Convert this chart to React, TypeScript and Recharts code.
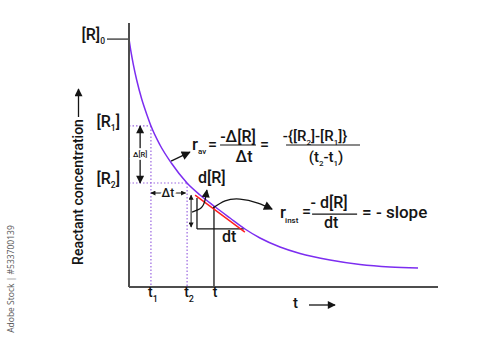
import React from "react";
import {
  ComposedChart,
  Line,
  XAxis,
  YAxis,
  ReferenceLine,
  ReferenceDot,
} from "recharts";

// concentration decay curve (both axes 0..100)
const TIME = [0, 0.65, 1.39, 2.49, 4.11, 5.99, 7.12, 10.03, 13.75, 18.77, 22.98, 27.51, 32.69, 37.54, 42.39, 48.87, 55.34, 65.05, 74.76, 84.47, 93.53];
const CONC = [93.94, 89.02, 84.32, 78.41, 71.21, 64.62, 60.98, 53.79, 46.86, 39.39, 34.85, 30.68, 26.14, 21.97, 18.56, 15.15, 12.69, 10.23, 8.52, 7.58, 7.2];

// marked instants and levels
const X_TICKS = [7.1, 18.8, 27.5];
const X_TICK_SUBS = ["1", "2", ""];
const Y_TICKS = [93.9, 61.0, 39.4];
const Y_TICK_LABELS = [
  ["[R]", "0", ""],
  ["[R", "1", "]"],
  ["[R", "2", "]"],
];

// segments as [t1, c1, t2, c2]
const DOTTED = [
  [0, 61.0, 7.1, 61.0],
  [7.1, 61.0, 7.1, 0],
  [0, 39.4, 18.8, 39.4],
  [18.8, 39.4, 18.8, 0],
];
const TANGENT = [21.4, 34.8, 37.5, 20.8];
const T_DROP = [27.5, 30.7, 27.5, 0];
const DT_LEGS = [
  [22.0, 33.7, 22.0, 22.0],
  [22.0, 22.0, 37.2, 22.0],
];
const DELTA_R_ARROW = [3.6, 61.0, 3.6, 39.4];
const DELTA_T_ARROW = [7.1, 35.6, 18.3, 35.6];
const DR_ARROW = [20.1, 34.8, 20.1, 22.7];
const RAV_POINTER = [13.6, 47.7, 19.7, 51.1];

// curved pointers
const DR_HOOK_T = [20.4, 23.3, 24.6, 25.2];
const DR_HOOK_C = [28.4, 29.9, 32.9, 36.7];
const INST_ARC_T = [27.2, 31.1, 35.9, 41.7, 46.3];
const INST_ARC_C = [29.9, 32.6, 33.3, 31.8, 29.5];

// text anchors [t, c]
const RAV_AT = [20.4, 51.9];
const RINST_AT = [48.9, 26.1];
const DR_LABEL_AT = [22.3, 39.4];
const DT_LABEL_AT = [30.1, 17.0];
const DELTA_T_LABEL_AT = [12.6, 34.1];
const DELTA_R_LABEL_AT = [3.6, 49.2];

const FONT = "Roboto, 'Noto Sans', sans-serif";
const INK = "#151515";
const PURPLE = "#7c2df0";

const curve = TIME.map((t, i) => ({ t, c: CONC[i] }));
const hook = DR_HOOK_T.map((t, i) => ({ t, c: DR_HOOK_C[i] }));
const arc = INST_ARC_T.map((t, i) => ({ t, c: INST_ARC_C[i] }));
const seg = (s: number[]) => [
  { x: s[0], y: s[1] },
  { x: s[2], y: s[3] },
];

function XTick(props: any) {
  const { x, y, payload } = props;
  const sub = X_TICK_SUBS[X_TICKS.indexOf(payload.value)];
  return (
    <text x={x + (sub ? 2 : 1)} y={y + 2} textAnchor="middle" fontFamily={FONT} fontWeight={500} fontSize={14} fill={INK}>
      t
      {sub && (
        <tspan dy={5} fontSize={9}>
          {sub}
        </tspan>
      )}
    </text>
  );
}

function YTick(props: any) {
  const { x, y, payload } = props;
  const i = Y_TICKS.indexOf(payload.value);
  const [a, s, b] = Y_TICK_LABELS[i] || ["", "", ""];
  const first = i === 0;
  return (
    <g>
      {first && <line x1={x - 14} x2={x + 8} y1={y} y2={y} stroke="#4d4d4d" strokeWidth={1.5} />}
      <text x={first ? x - 16 : x - 1} y={y + 1} textAnchor="end" fontFamily={FONT} fontWeight={500} fontSize={16} fill={INK}>
        {a}
        <tspan dy={4} fontSize={8.5}>
          {s}
        </tspan>
        {b && <tspan dy={-4}>{b}</tspan>}
      </text>
    </g>
  );
}

function RavFormula({ cx, cy }: any) {
  return (
    <g fontFamily={FONT} fontWeight={500} fill={INK}>
      <text x={cx} y={cy} fontSize={17}>r</text>
      <text x={cx + 6} y={cy + 4} fontSize={8}>av</text>
      <text x={cx + 16} y={cy} fontSize={16}>=</text>
      <text x={cx + 46} y={cy - 8} fontSize={16} textAnchor="middle">-Δ[R]</text>
      <line x1={cx + 28} x2={cx + 64} y1={cy - 5} y2={cy - 5} stroke={INK} strokeWidth={1.2} />
      <text x={cx + 52} y={cy + 12} fontSize={16} textAnchor="middle">Δt</text>
      <text x={cx + 68} y={cy} fontSize={16}>=</text>
      <text x={cx + 123} y={cy - 9} fontSize={15} textAnchor="middle">
        -{"{"}[R<tspan dy={4} fontSize={8}>2</tspan>
        <tspan dy={-4}>]-[R</tspan>
        <tspan dy={4} fontSize={8}>1</tspan>
        <tspan dy={-4}>]{"}"}</tspan>
      </text>
      <line x1={cx + 94} x2={cx + 168} y1={cy - 5} y2={cy - 5} stroke={INK} strokeWidth={1.2} />
      <text x={cx + 134} y={cy + 12} fontSize={15} textAnchor="middle">
        (t<tspan dy={4} fontSize={8}>2</tspan>
        <tspan dy={-4}>-t</tspan>
        <tspan dy={4} fontSize={8}>1</tspan>
        <tspan dy={-4}>)</tspan>
      </text>
    </g>
  );
}

function RinstFormula({ cx, cy }: any) {
  return (
    <g fontFamily={FONT} fontWeight={500} fill={INK}>
      <text x={cx} y={cy} fontSize={17}>r</text>
      <text x={cx + 5} y={cy + 5} fontSize={8}>inst</text>
      <text x={cx + 22} y={cy - 1} fontSize={16}>=</text>
      <text x={cx + 49} y={cy - 10} fontSize={16} textAnchor="middle">- d[R]</text>
      <line x1={cx + 32} x2={cx + 77} y1={cy - 4} y2={cy - 4} stroke={INK} strokeWidth={1.2} />
      <text x={cx + 51} y={cy + 10} fontSize={16} textAnchor="middle">dt</text>
      <text x={cx + 82} y={cy} fontSize={17}>= - slope</text>
    </g>
  );
}

const plainText = (label: string, size: number, anchor: string, halo = false) => (p: any) => (
  <text
    x={p.cx}
    y={p.cy}
    textAnchor={anchor}
    fontFamily={FONT}
    fontWeight={500}
    fontSize={size}
    fill={INK}
    stroke={halo ? "#fff" : "none"}
    strokeWidth={halo ? 4 : 0}
    paintOrder="stroke"
  >
    {label}
  </text>
);

function YLabel({ viewBox }: any) {
  const x = viewBox.x;
  const y = viewBox.y;
  return (
    <g>
      <text
        x={x + 14}
        y={y + 169}
        transform={`rotate(-90 ${x + 14} ${y + 169})`}
        textAnchor="middle"
        fontFamily={FONT}
        fontWeight={500}
        fontSize={14}
        fill={INK}
      >
        Reactant concentration
      </text>
      <line x1={x + 9.5} x2={x + 9.5} y1={y + 94} y2={y + 66} stroke={INK} strokeWidth={1.3} markerEnd="url(#ahMid)" />
    </g>
  );
}

function XLabel({ viewBox }: any) {
  const x = viewBox.x;
  const y = viewBox.y;
  return (
    <g>
      <text x={x + 164} y={y + 21} fontFamily={FONT} fontWeight={500} fontSize={15} fill={INK}>
        t
      </text>
      <line x1={x + 180} x2={x + 206} y1={y + 18} y2={y + 18} stroke={INK} strokeWidth={1.3} markerEnd="url(#ahMid)" />
    </g>
  );
}

export default function App() {
  return (
    <div style={{ position: "absolute", left: 0, top: 0, width: 500, height: 340, background: "#fff" }}>
      <svg width={0} height={0} style={{ position: "absolute" }}>
        <defs>
          <marker id="ahBig" viewBox="0 0 10 10" refX="9" refY="5" markerWidth="11" markerHeight="9" markerUnits="userSpaceOnUse" orient="auto-start-reverse">
            <path d="M0,0 L10,5 L0,10 z" fill={INK} />
          </marker>
          <marker id="ahMid" viewBox="0 0 10 10" refX="9" refY="5" markerWidth="9" markerHeight="8" markerUnits="userSpaceOnUse" orient="auto-start-reverse">
            <path d="M0,0 L10,5 L0,10 z" fill={INK} />
          </marker>
          <marker id="ahSmall" viewBox="0 0 10 10" refX="9" refY="5" markerWidth="6" markerHeight="5" markerUnits="userSpaceOnUse" orient="auto-start-reverse">
            <path d="M0,0 L10,5 L0,10 z" fill={INK} />
          </marker>
        </defs>
      </svg>
      <ComposedChart width={500} height={340} data={curve} margin={{ top: 23, right: 62, bottom: 23, left: 69 }}>
        <XAxis
          type="number"
          dataKey="t"
          domain={[0, 100]}
          ticks={X_TICKS}
          interval={0}
          tick={<XTick />}
          tickLine={false}
          axisLine={{ stroke: "#4d4d4d", strokeWidth: 2 }}
          label={<XLabel />}
          allowDataOverflow
        />
        <YAxis
          type="number"
          dataKey="c"
          domain={[0, 100]}
          ticks={Y_TICKS}
          interval={0}
          tick={<YTick />}
          tickLine={false}
          axisLine={{ stroke: "#4d4d4d", strokeWidth: 2 }}
          label={<YLabel />}
          allowDataOverflow
        />

        {DOTTED.map((s, i) => (
          <ReferenceLine key={`d${i}`} segment={seg(s)} stroke="#9a66e0" strokeWidth={1.2} strokeDasharray="1.5 2" ifOverflow="visible" />
        ))}
        <ReferenceLine segment={seg(T_DROP)} stroke={INK} strokeWidth={1.3} ifOverflow="visible" />
        {DT_LEGS.map((s, i) => (
          <ReferenceLine key={`l${i}`} segment={seg(s)} stroke={INK} strokeWidth={1.3} ifOverflow="visible" />
        ))}
        <ReferenceLine segment={seg(DELTA_R_ARROW)} stroke={INK} strokeWidth={1.3} markerStart="url(#ahMid)" markerEnd="url(#ahMid)" ifOverflow="visible" />
        <ReferenceLine segment={seg(DELTA_T_ARROW)} stroke={INK} strokeWidth={1} markerStart="url(#ahSmall)" markerEnd="url(#ahSmall)" ifOverflow="visible" />
        <ReferenceLine segment={seg(DR_ARROW)} stroke={INK} strokeWidth={1} markerStart="url(#ahSmall)" markerEnd="url(#ahSmall)" ifOverflow="visible" />
        <ReferenceLine segment={seg(RAV_POINTER)} stroke={INK} strokeWidth={1.3} markerEnd="url(#ahBig)" ifOverflow="visible" />

        <Line data={curve} dataKey="c" type="monotone" stroke={PURPLE} strokeWidth={1.5} dot={false} isAnimationActive={false} />
        <ReferenceLine segment={seg(TANGENT)} stroke="#ff1f1f" strokeWidth={1.5} ifOverflow="visible" />
        <Line data={hook} dataKey="c" type="natural" stroke={INK} strokeWidth={1.3} dot={false} markerEnd="url(#ahMid)" isAnimationActive={false} />
        <Line data={arc} dataKey="c" type="natural" stroke={INK} strokeWidth={1.3} dot={false} markerEnd="url(#ahBig)" isAnimationActive={false} />

        <ReferenceDot x={RAV_AT[0]} y={RAV_AT[1]} r={0} ifOverflow="visible" shape={(p: any) => <RavFormula cx={p.cx} cy={p.cy} />} />
        <ReferenceDot x={RINST_AT[0]} y={RINST_AT[1]} r={0} ifOverflow="visible" shape={(p: any) => <RinstFormula cx={p.cx} cy={p.cy} />} />
        <ReferenceDot x={DR_LABEL_AT[0]} y={DR_LABEL_AT[1]} r={0} ifOverflow="visible" shape={plainText("d[R]", 16, "start")} />
        <ReferenceDot x={DT_LABEL_AT[0]} y={DT_LABEL_AT[1]} r={0} ifOverflow="visible" shape={plainText("dt", 16, "start")} />
        <ReferenceDot x={DELTA_T_LABEL_AT[0]} y={DELTA_T_LABEL_AT[1]} r={0} ifOverflow="visible" shape={plainText("Δt", 12, "middle", true)} />
        <ReferenceDot x={DELTA_R_LABEL_AT[0]} y={DELTA_R_LABEL_AT[1]} r={0} ifOverflow="visible" shape={plainText("Δ[R]", 7.5, "middle", true)} />
      </ComposedChart>
      <svg width={30} height={340} style={{ position: "absolute", left: 0, top: 0 }}>
        <text x={14} y={279} transform="rotate(-90 14 279)" textAnchor="middle" fontFamily="'Open Sans', sans-serif" fontSize={8.5} fill="#555">
          Adobe Stock | #533700139
        </text>
      </svg>
    </div>
  );
}
